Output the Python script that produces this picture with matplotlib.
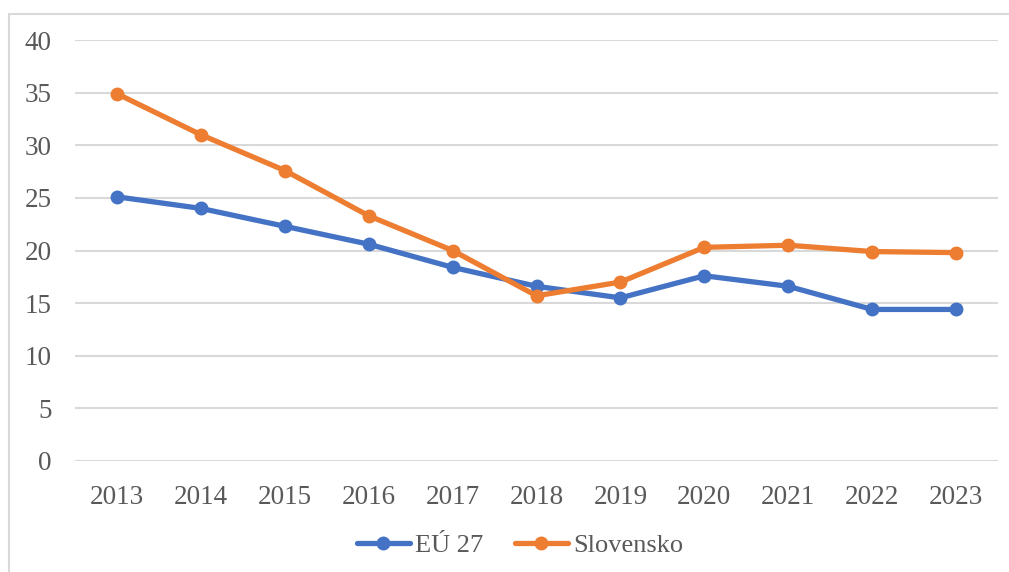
import numpy as np
import matplotlib.pyplot as plt
from matplotlib.patches import Rectangle

years = ['2013', '2014', '2015', '2016', '2017', '2018', '2019', '2020', '2021', '2022', '2023']
eu27 = [25.1, 24.0, 22.3, 20.6, 18.4, 16.6, 15.5, 17.6, 16.6, 14.4, 14.4]
slovensko = [34.9, 31.0, 27.6, 23.3, 20.0, 15.7, 17.0, 20.3, 20.5, 19.9, 19.8]

plt.rcParams['font.family'] = ['Liberation Serif', 'DejaVu Serif']
text_col = '#595959'

fig = plt.figure(figsize=(10.09, 5.72), dpi=100)
# outer chart border
fig.patches.append(Rectangle((9/1009, -0.1), 1.1, 1 - 14/572 + 0.1, transform=fig.transFigure,
                             fill=False, edgecolor='#D9D9D9', linewidth=1.5))

ax = fig.add_axes([75/1009, 1 - 461/572, 923/1009, 421/572])
x = np.arange(len(years))
ax.plot(x, eu27, color='#4472C4', linewidth=3.8, marker='o', markersize=9,
        label='EÚ 27', solid_capstyle='round')
ax.plot(x, slovensko, color='#ED7D31', linewidth=3.8, marker='o', markersize=9,
        label='Slovensko', solid_capstyle='round')

ax.set_xlim(-0.5, len(years) - 0.5)
ax.set_ylim(0, 40)
ax.set_yticks(range(0, 41, 5))
ax.set_xticks(x)
ax.set_xticklabels(years)
ax.grid(axis='y', color='#D9D9D9', linewidth=1.5)
ax.set_axisbelow(True)
for s in ax.spines.values():
    s.set_visible(False)
ax.tick_params(length=0, labelsize=19.5, labelcolor=text_col)
ax.tick_params(axis='y', pad=17)
ax.tick_params(axis='x', pad=17)

leg = fig.legend(loc='center', bbox_to_anchor=(520/1009, 1 - 545/572), ncol=2, frameon=False,
                 fontsize=19, handlelength=2.0, columnspacing=1.2, handletextpad=0.2)
for t in leg.get_texts():
    t.set_color(text_col)

fig.savefig('out.png', dpi=100)
